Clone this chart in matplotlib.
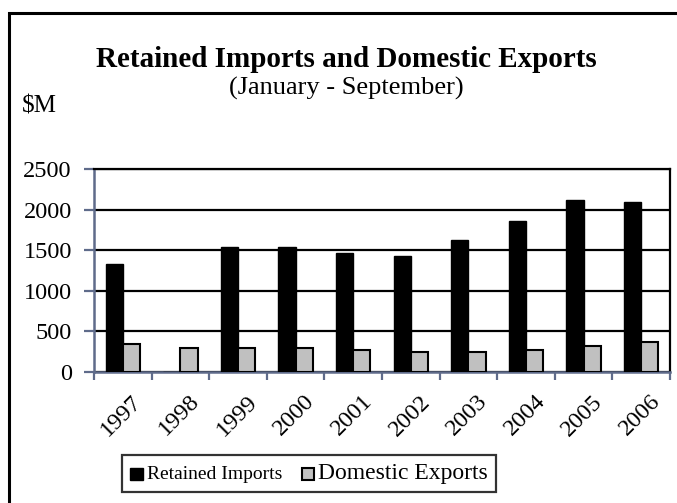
import numpy as np
import matplotlib.pyplot as plt
import matplotlib.transforms as mtransforms
from matplotlib.patches import Rectangle

years = ['1997', '1998', '1999', '2000', '2001', '2002', '2003', '2004', '2005', '2006']
retained_imports = [1330, 0, 1540, 1540, 1470, 1425, 1620, 1860, 2120, 2095]
domestic_exports = [340, 295, 300, 290, 265, 245, 250, 270, 315, 370]

plt.rcParams['font.family'] = 'Liberation Serif'
axis_col = '#5f6b8a'

fig = plt.figure(figsize=(6.77, 5.03), dpi=100)
ax = fig.add_axes([94 / 677, 1 - 372 / 503, 576 / 677, 203 / 503])

# outer frame, runs off the right and bottom edges
fig.patches.append(Rectangle((9 / 677, -0.05), 1.0, 1 - 13 / 503 + 0.05,
                             transform=fig.transFigure, fill=False,
                             edgecolor='black', linewidth=2.2))

x = np.arange(len(years))
w = 0.3
ax.bar(x - w / 2, retained_imports, w, color='black', edgecolor='black',
       linewidth=1, label='Retained Imports', zorder=3)
ax.bar(x + w / 2, domestic_exports, w, color='#c0c0c0', edgecolor='black',
       linewidth=1.5, label='Domestic Exports', zorder=3)

ax.set_xlim(-0.5, len(years) - 0.5)
ax.set_ylim(0, 2500)
ax.set_yticks(range(0, 2501, 500))
ax.yaxis.grid(True, color='black', linewidth=1.6, zorder=0)

ax.set_xticks(x)
ax.set_xticklabels(years, rotation=45, ha='right', va='center',
                   rotation_mode='anchor', fontsize=17.5)
ax.tick_params(axis='x', length=0, pad=19)
shift = mtransforms.ScaledTranslation(0.16, 0, fig.dpi_scale_trans)
for lab in ax.get_xticklabels():
    lab.set_transform(lab.get_transform() + shift)
ax.set_xticks(np.arange(-0.5, len(years)), minor=True)
ax.tick_params(axis='x', which='minor', length=6, width=1.6, color=axis_col)
ax.tick_params(axis='y', length=7, width=1.6, color=axis_col, labelsize=17.5,
               pad=9)

for s in ['top', 'right']:
    ax.spines[s].set_color('black')
    ax.spines[s].set_linewidth(1.6)
for s in ['left', 'bottom']:
    ax.spines[s].set_color(axis_col)
    ax.spines[s].set_linewidth(1.8)

fig.text(346 / 677, 1 - 67 / 503, 'Retained Imports and Domestic Exports',
         ha='center', va='baseline', fontsize=21, fontweight='bold')
fig.text(346 / 677, 1 - 95 / 503, '(January - September)',
         ha='center', va='baseline', fontsize=19)
fig.text(22 / 677, 1 - 113 / 503, '$M', ha='left', va='baseline', fontsize=18)

leg = fig.legend(loc='center', bbox_to_anchor=(309 / 677, 1 - 473.5 / 503),
                 ncol=2, frameon=True, fancybox=False, edgecolor='black',
                 handlelength=0.9, handleheight=0.9, handletextpad=0.3,
                 columnspacing=1.4, borderpad=0.6)
leg.get_frame().set_linewidth(1.6)
leg.get_texts()[0].set_fontsize(14)
leg.get_texts()[1].set_fontsize(17)

fig.savefig('out.png', dpi=100)
